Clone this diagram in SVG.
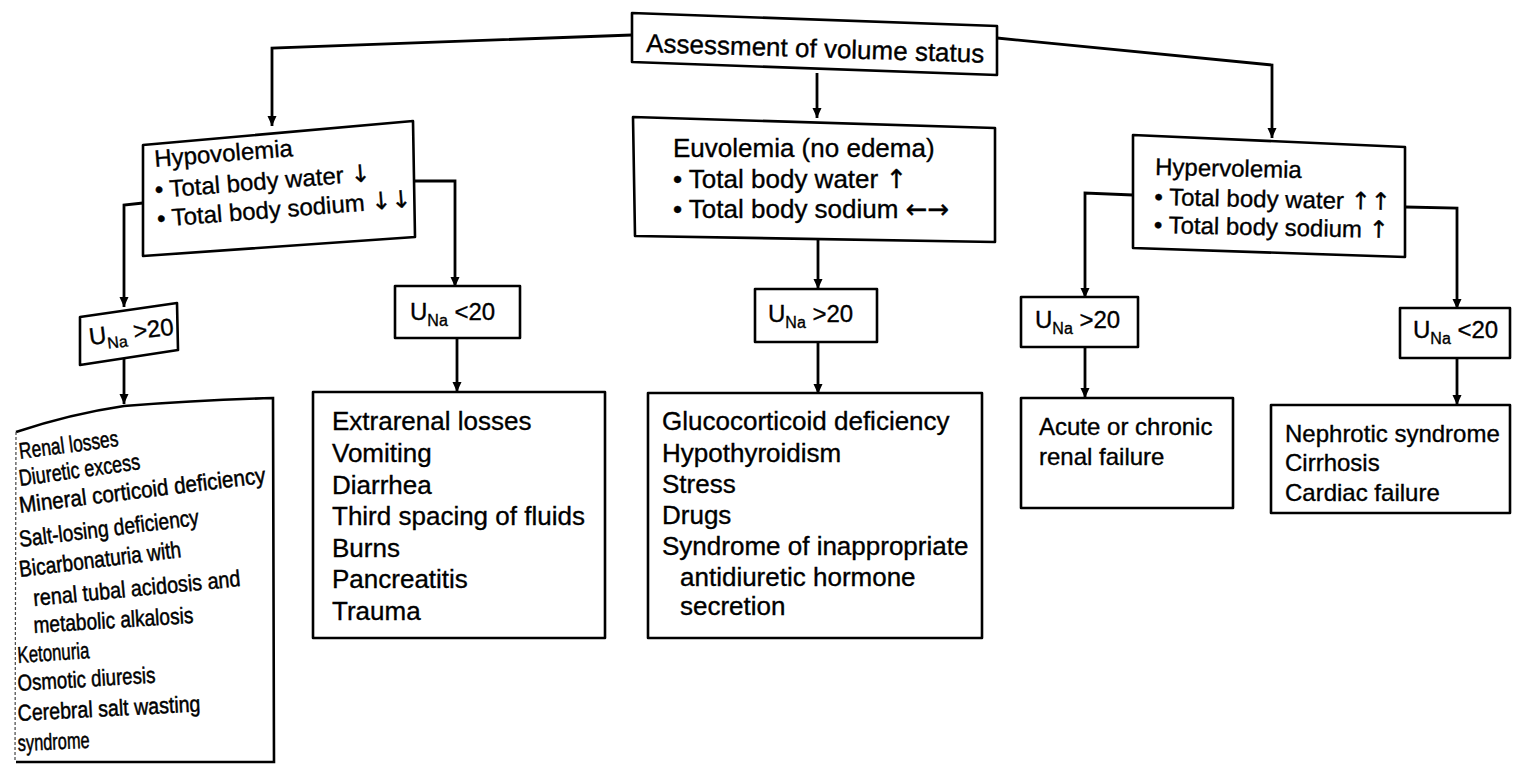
<svg xmlns="http://www.w3.org/2000/svg" width="1522" height="764" viewBox="0 0 1522 764">
<style>
.box{fill:#fff;stroke:#000;stroke-width:2.6;stroke-linejoin:round}
.t{font-family:"Liberation Sans",Arial,sans-serif;fill:#000;stroke:#000;stroke-width:0.35}
.ar{font-family:"DejaVu Sans",sans-serif;fill:#000}
.t24{font-size:24px}
.t26{font-size:26px}
.t22{font-size:23px;stroke-width:0.5}
.sub{font-size:16px}
.ln{fill:none;stroke:#000;stroke-width:2.8;marker-end:url(#ah)}
.edge{fill:none;stroke:#000;stroke-width:2.6}
.faint{fill:none;stroke:#444;stroke-width:1.2;stroke-dasharray:3 2}
</style>
<defs>
<marker id="ah" markerUnits="userSpaceOnUse" markerWidth="10" markerHeight="10" refX="10" refY="5" orient="auto">
<path d="M0,0.5 L10,5 L0,9.5 z" fill="#000"/>
</marker>
</defs>
<rect width="1522" height="764" fill="#fff"/>

<g id="connectors">
<path class="ln" d="M632,35 L272,48 L272,126"/>
<path class="ln" d="M997,38 L1272,65 L1272,138"/>
<path class="ln" d="M817,73 L817,118"/>
<path class="ln" d="M143,203 L124,205 L124,307"/>
<path class="ln" d="M415,181 L455,181 L455,287"/>
<path class="ln" d="M124,358 L124,404"/>
<path class="ln" d="M457,338 L457,392"/>
<path class="ln" d="M818,240 L818,289"/>
<path class="ln" d="M818,343 L818,394"/>
<path class="ln" d="M1133,195 L1085,193 L1085,298"/>
<path class="ln" d="M1085,347 L1085,398"/>
<path class="ln" d="M1405,207 L1457,208 L1457,309"/>
<path class="ln" d="M1457,358 L1457,405"/>
</g>

<g id="assessment">
<polygon class="box" points="632,13 997,26 997,75 632,62"/>
<text class="t t26" x="646" y="52" transform="rotate(1.8 646 52)">Assessment of volume status</text>
</g>

<g id="hypovolemia">
<polygon class="box" points="143,145 413,121 415,237 143,256"/>
<g transform="rotate(-4.5 155 167)">
<text class="t t24" x="155" y="167">Hypovolemia</text>
<text class="t t24" x="153" y="198">• Total body water <tspan class="ar">↓</tspan></text>
<text class="t t24" x="153" y="227">• Total body sodium <tspan class="ar">↓↓</tspan></text>
</g>
</g>

<g id="euvolemia">
<polygon class="box" points="633,117 995,128 995,242 635,236"/>
<text class="t t26" x="673" y="157">Euvolemia (no edema)</text>
<text class="t t26" x="673" y="188">• Total body water <tspan class="ar">↑</tspan></text>
<text class="t t26" x="673" y="218">• Total body sodium <tspan class="ar">←→</tspan></text>
</g>

<g id="hypervolemia">
<polygon class="box" points="1133,135 1405,147 1405,257 1133,248"/>
<g transform="rotate(1.2 1155 175)">
<text class="t t24" x="1155" y="175">Hypervolemia</text>
<text class="t t24" x="1155" y="205">• Total body water <tspan class="ar">↑↑</tspan></text>
<text class="t t24" x="1155" y="233">• Total body sodium <tspan class="ar">↑</tspan></text>
</g>
</g>

<g id="una-hypo-gt20">
<polygon class="box" points="80,317 177,303 178,350 80,365"/>
<text class="t t24" x="90" y="345" transform="rotate(-7 90 345)">U<tspan class="sub" dy="6">Na</tspan><tspan dy="-6"> &gt;20</tspan></text>
</g>

<g id="una-hypo-lt20">
<rect class="box" x="395" y="286" width="125" height="52"/>
<text class="t t24" x="410" y="320">U<tspan class="sub" dy="6">Na</tspan><tspan dy="-6"> &lt;20</tspan></text>
</g>

<g id="una-eu-gt20">
<rect class="box" x="755" y="289" width="122" height="53"/>
<text class="t t24" x="768" y="322">U<tspan class="sub" dy="6">Na</tspan><tspan dy="-6"> &gt;20</tspan></text>
</g>

<g id="una-hyper-gt20">
<rect class="box" x="1021" y="297" width="117" height="50"/>
<text class="t t24" x="1035" y="328">U<tspan class="sub" dy="6">Na</tspan><tspan dy="-6"> &gt;20</tspan></text>
</g>

<g id="una-hyper-lt20">
<rect class="box" x="1400" y="308" width="110" height="50"/>
<text class="t t24" x="1413" y="338">U<tspan class="sub" dy="6">Na</tspan><tspan dy="-6"> &lt;20</tspan></text>
</g>

<g id="renal-losses">
<path d="M16,432 Q70,414 124,406 Q200,400 273,398 L274,762 L16,762 Z" fill="#fff"/>
<path class="edge" d="M16,432 Q70,414 124,406 Q200,400 273,398 L274,762 L16,762"/>
<path class="faint" d="M16,432 L15,762"/>
<text class="t t22" x="20" y="459" transform="rotate(-7.5 20 459)" textLength="100" lengthAdjust="spacingAndGlyphs">Renal losses</text>
<text class="t t22" x="20" y="486" transform="rotate(-8 20 486)" textLength="122" lengthAdjust="spacingAndGlyphs">Diuretic excess</text>
<text class="t t22" x="20" y="513" transform="rotate(-7 20 513)" textLength="248" lengthAdjust="spacingAndGlyphs">Mineral corticoid deficiency</text>
<text class="t t22" x="20" y="547" transform="rotate(-7 20 547)" textLength="181" lengthAdjust="spacingAndGlyphs">Salt-losing deficiency</text>
<text class="t t22" x="20" y="577" transform="rotate(-7 20 577)" textLength="163" lengthAdjust="spacingAndGlyphs">Bicarbonaturia with</text>
<text class="t t22" x="34" y="606" transform="rotate(-5.5 34 606)" textLength="208" lengthAdjust="spacingAndGlyphs">renal tubal acidosis and</text>
<text class="t t22" x="34" y="633" transform="rotate(-3.6 34 633)" textLength="160" lengthAdjust="spacingAndGlyphs">metabolic alkalosis</text>
<text class="t t22" x="18" y="663" transform="rotate(-4 18 663)" textLength="72" lengthAdjust="spacingAndGlyphs">Ketonuria</text>
<text class="t t22" x="18" y="691" transform="rotate(-3.5 18 691)" textLength="138" lengthAdjust="spacingAndGlyphs">Osmotic diuresis</text>
<text class="t t22" x="18" y="721" transform="rotate(-3 18 721)" textLength="183" lengthAdjust="spacingAndGlyphs">Cerebral salt wasting</text>
<text class="t t22" x="18" y="751" transform="rotate(-2.5 18 751)" textLength="72" lengthAdjust="spacingAndGlyphs">syndrome</text>
</g>

<g id="extrarenal">
<rect class="box" x="313" y="392" width="292" height="246"/>
<text class="t t26" x="332" y="430">Extrarenal losses</text>
<text class="t t26" x="332" y="462">Vomiting</text>
<text class="t t26" x="332" y="494">Diarrhea</text>
<text class="t t26" x="332" y="525">Third spacing of fluids</text>
<text class="t t26" x="332" y="557">Burns</text>
<text class="t t26" x="332" y="588">Pancreatitis</text>
<text class="t t26" x="332" y="620">Trauma</text>
</g>

<g id="euvolemia-causes">
<rect class="box" x="648" y="393" width="334" height="245"/>
<text class="t t26" x="662" y="430">Glucocorticoid deficiency</text>
<text class="t t26" x="662" y="462">Hypothyroidism</text>
<text class="t t26" x="662" y="493">Stress</text>
<text class="t t26" x="662" y="524">Drugs</text>
<text class="t t26" x="662" y="555">Syndrome of inappropriate</text>
<text class="t t26" x="680" y="586">antidiuretic hormone</text>
<text class="t t26" x="680" y="615">secretion</text>
</g>

<g id="renal-failure">
<rect class="box" x="1021" y="398" width="212" height="110"/>
<text class="t t24" x="1039" y="435">Acute or chronic</text>
<text class="t t24" x="1039" y="465">renal failure</text>
</g>

<g id="edema-causes">
<rect class="box" x="1271" y="405" width="239" height="108"/>
<text class="t t24" x="1285" y="442">Nephrotic syndrome</text>
<text class="t t24" x="1285" y="471">Cirrhosis</text>
<text class="t t24" x="1285" y="501">Cardiac failure</text>
</g>
</svg>
